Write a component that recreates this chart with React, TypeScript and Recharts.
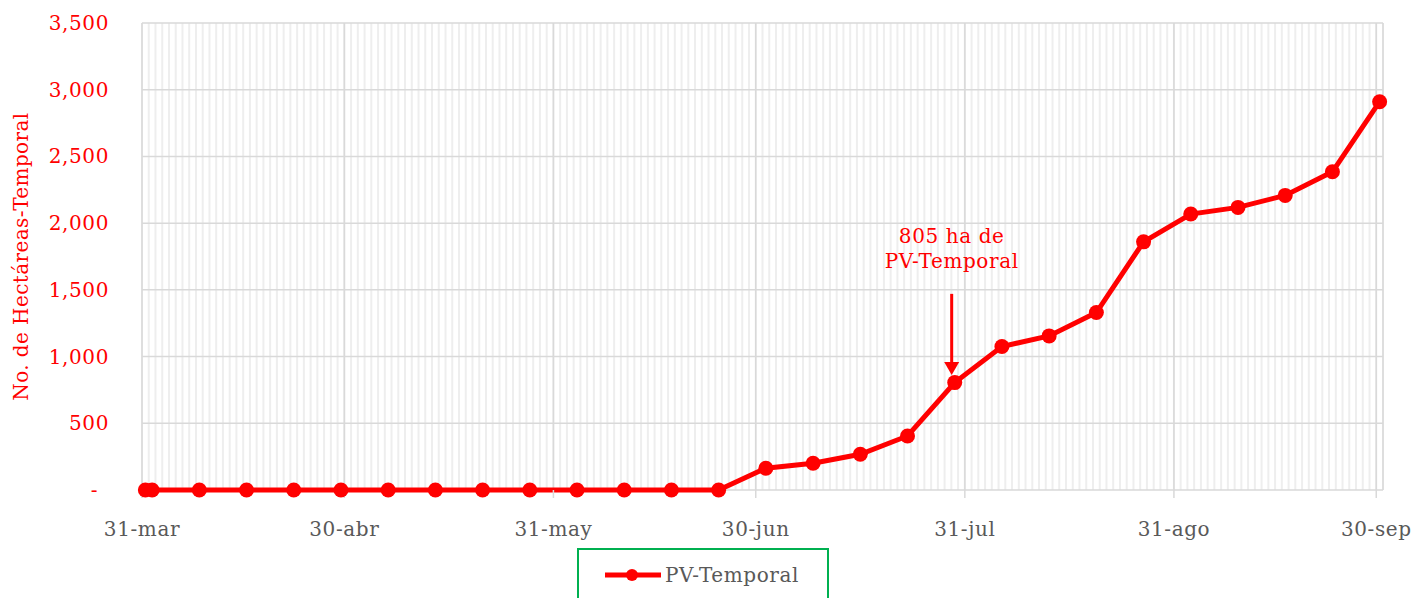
import {
  LineChart,
  Line,
  XAxis,
  YAxis,
  CartesianGrid,
  Legend,
  ReferenceLine,
} from 'recharts';

// fechas de corte (semanales) y hectáreas acumuladas
const fechas = [
  '2019-03-31', '2019-04-01', '2019-04-08', '2019-04-15', '2019-04-22', '2019-04-29',
  '2019-05-06', '2019-05-13', '2019-05-20', '2019-05-27', '2019-06-03', '2019-06-10',
  '2019-06-17', '2019-06-24', '2019-07-01', '2019-07-08', '2019-07-15', '2019-07-22',
  '2019-07-29', '2019-08-05', '2019-08-12', '2019-08-19', '2019-08-26', '2019-09-02',
  '2019-09-09', '2019-09-16', '2019-09-23', '2019-09-30',
];
const hectareas = [
  0, 0, 0, 0, 0, 0,
  0, 0, 0, 0, 0, 0,
  0, 0, 163, 200, 268, 405,
  805, 1075, 1155, 1330, 1860, 2068,
  2118, 2208, 2385, 2910,
];

const ticksMes = ['2019-03-31', '2019-04-30', '2019-05-31', '2019-06-30', '2019-07-31', '2019-08-31', '2019-09-30'];
const etiquetasMes = ['31-mar', '30-abr', '31-may', '30-jun', '31-jul', '31-ago', '30-sep'];
const ticksY = [0, 500, 1000, 1500, 2000, 2500, 3000, 3500];

const notaFecha = '2019-07-29';
const notaTexto = ['805 ha de', 'PV-Temporal'];

const RED = '#ff0000';
const GRAY = '#595959';
const FONT = '"DejaVu Serif", serif';

const inicio = Date.UTC(2019, 2, 31);
const toDay = (s: string) => {
  const [y, m, d] = s.split('-').map(Number);
  return Math.round((Date.UTC(y, m - 1, d) - inicio) / 86400000);
};
const finDia = toDay('2019-10-01');

// Excel dibuja cada punto a mitad del día
const data = fechas.map((f, i) => ({ x: toDay(f) + 0.5, valor: hectareas[i] }));
const ticksDia = Array.from({ length: finDia + 1 }, (_, i) => i);
const ticksX = ticksMes.map(toDay);

const fmtY = (v: number) => (v === 0 ? '-' : v.toLocaleString('en-US'));

const XTick = (props: any) => {
  const { x, y, payload } = props;
  const i = ticksX.indexOf(payload.value);
  return (
    <text x={x} y={y} dy={16} textAnchor="middle" fill={GRAY} fontSize={20} fontFamily={FONT} letterSpacing={0.6}>
      {etiquetasMes[i]}
    </text>
  );
};

const YTick = (props: any) => {
  const { x, y, payload } = props;
  const zero = payload.value === 0;
  return (
    <text x={zero ? x - 11 : x} y={y} dy={7} textAnchor="end" fill={RED} fontSize={20} fontFamily={FONT} letterSpacing={0.6}>
      {fmtY(payload.value)}
    </text>
  );
};

const Flecha = (props: any) => {
  const { x1, y1, x2, y2 } = props;
  return (
    <g>
      <line x1={x1} y1={y1} x2={x2} y2={y2 - 12} stroke={RED} strokeWidth={3} />
      <polygon points={`${x2 - 7.5},${y2 - 13} ${x2 + 7.5},${y2 - 13} ${x2},${y2}`} fill={RED} />
      {notaTexto.map((t, i) => (
        <text
          key={t}
          x={x1}
          y={y1 - 51 + i * 25}
          textAnchor="middle"
          fill={RED}
          fontSize={20}
          fontFamily={FONT}
          letterSpacing={0.6}
        >
          {t}
        </text>
      ))}
    </g>
  );
};

const LegendBox = () => (
  <svg width={250} height={50} style={{ display: 'block' }}>
    <line x1={26} y1={23} x2={82} y2={23} stroke={RED} strokeWidth={5} />
    <circle cx={53} cy={23} r={6} fill={RED} />
    <text x={86} y={30} fill={GRAY} fontSize={20} fontFamily={FONT} letterSpacing={0.6}>
      PV-Temporal
    </text>
  </svg>
);

export default function App() {
  const xNota = toDay(notaFecha) + 0.05;
  return (
    <div style={{ position: 'absolute', left: 0, top: 0, width: 1416, height: 598, background: '#fff' }}>
      <LineChart width={1416} height={598} data={data} margin={{ top: 23, right: 33, bottom: 78, left: 0 }}>
        <XAxis
          xAxisId="minor"
          dataKey="x"
          type="number"
          domain={[0, finDia]}
          ticks={ticksDia}
          interval={0}
          height={0}
          hide
        />
        <CartesianGrid xAxisId="minor" horizontal={false} stroke="#eeeeee" strokeWidth={2} />
        <CartesianGrid stroke="#d9d9d9" strokeWidth={1.5} />
        <XAxis
          dataKey="x"
          type="number"
          domain={[0, finDia]}
          ticks={ticksX}
          interval={0}
          height={30}
          tick={<XTick />}
          tickSize={8}
          tickMargin={22}
          tickLine={{ stroke: '#d9d9d9', strokeWidth: 1.5 }}
          axisLine={false}
        />
        <YAxis
          type="number"
          domain={[0, 3500]}
          ticks={ticksY}
          width={142}
          tick={<YTick />}
          tickSize={0}
          tickMargin={33}
          tickLine={false}
          axisLine={false}
          label={{
            content: ({ viewBox }: any) => {
              const cx = viewBox.x + 21;
              const cy = viewBox.y + viewBox.height / 2;
              return (
                <text
                  x={cx}
                  y={cy}
                  dy={7}
                  textAnchor="middle"
                  fill={RED}
                  fontSize={20}
                  fontFamily={FONT}
                  letterSpacing={0.4}
                  transform={`rotate(-90 ${cx} ${cy})`}
                >
                  No. de Hectáreas-Temporal
                </text>
              );
            },
          }}
        />
        <ReferenceLine
          segment={[
            { x: xNota, y: 1470 },
            { x: xNota, y: 862 },
          ]}
          shape={<Flecha />}
          ifOverflow="visible"
        />
        <Line
          type="linear"
          dataKey="valor"
          name="PV-Temporal"
          stroke={RED}
          strokeWidth={5}
          dot={{ r: 7.5, fill: RED, stroke: RED, strokeWidth: 0 }}
          activeDot={false}
          isAnimationActive={false}
        />
        <Legend
          layout="horizontal"
          verticalAlign="middle"
          align="center"
          content={<LegendBox />}
          wrapperStyle={{
            left: 577,
            top: 548,
            width: 252,
            height: 60,
            border: '2px solid #00b050',
            boxSizing: 'border-box',
            paddingTop: 2,
          }}
        />
      </LineChart>
    </div>
  );
}
